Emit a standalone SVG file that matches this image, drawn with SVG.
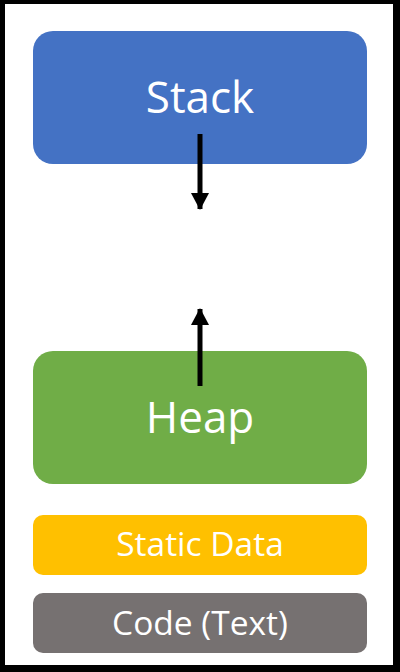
<svg xmlns="http://www.w3.org/2000/svg" width="400" height="672" viewBox="0 0 400 672">
<defs>
<style>
.lbl{font-family:"Open Sans","Noto Sans","Liberation Sans",sans-serif;fill:#fff;text-anchor:middle}
.conn{stroke:#000;stroke-width:5;fill:none}
</style>
<marker id="ah" markerUnits="userSpaceOnUse" markerWidth="17" markerHeight="18" refX="16" refY="9" orient="auto" viewBox="0 0 17 18">
<path d="M0,0 L17,9 L0,18 Z" fill="#000"/>
</marker>
</defs>
<rect x="0" y="0" width="400" height="672" fill="#000"/>
<rect x="5" y="4" width="388" height="661" fill="#fff"/>
<g id="stack">
<rect x="33" y="31" width="334" height="133" rx="20" fill="#4472C4"/>
<text class="lbl" x="200" y="113" font-size="44">Stack</text>
</g>
<g id="heap">
<rect x="33" y="351" width="334" height="133" rx="20" fill="#70AD47"/>
<text class="lbl" x="200" y="433" font-size="44">Heap</text>
</g>
<g id="static">
<rect x="33" y="515" width="334" height="60" rx="10" fill="#FFC000"/>
<text class="lbl" x="200" y="556" font-size="33.5">Static Data</text>
</g>
<g id="code">
<rect x="33" y="593" width="334" height="60" rx="10" fill="#767171"/>
<text class="lbl" x="200" y="635" font-size="33.5">Code (Text)</text>
</g>
<g id="connectors">
<line class="conn" x1="200" y1="134" x2="200" y2="209" marker-end="url(#ah)"/>
<line class="conn" x1="200" y1="386" x2="200" y2="309" marker-end="url(#ah)"/>
</g>
</svg>
